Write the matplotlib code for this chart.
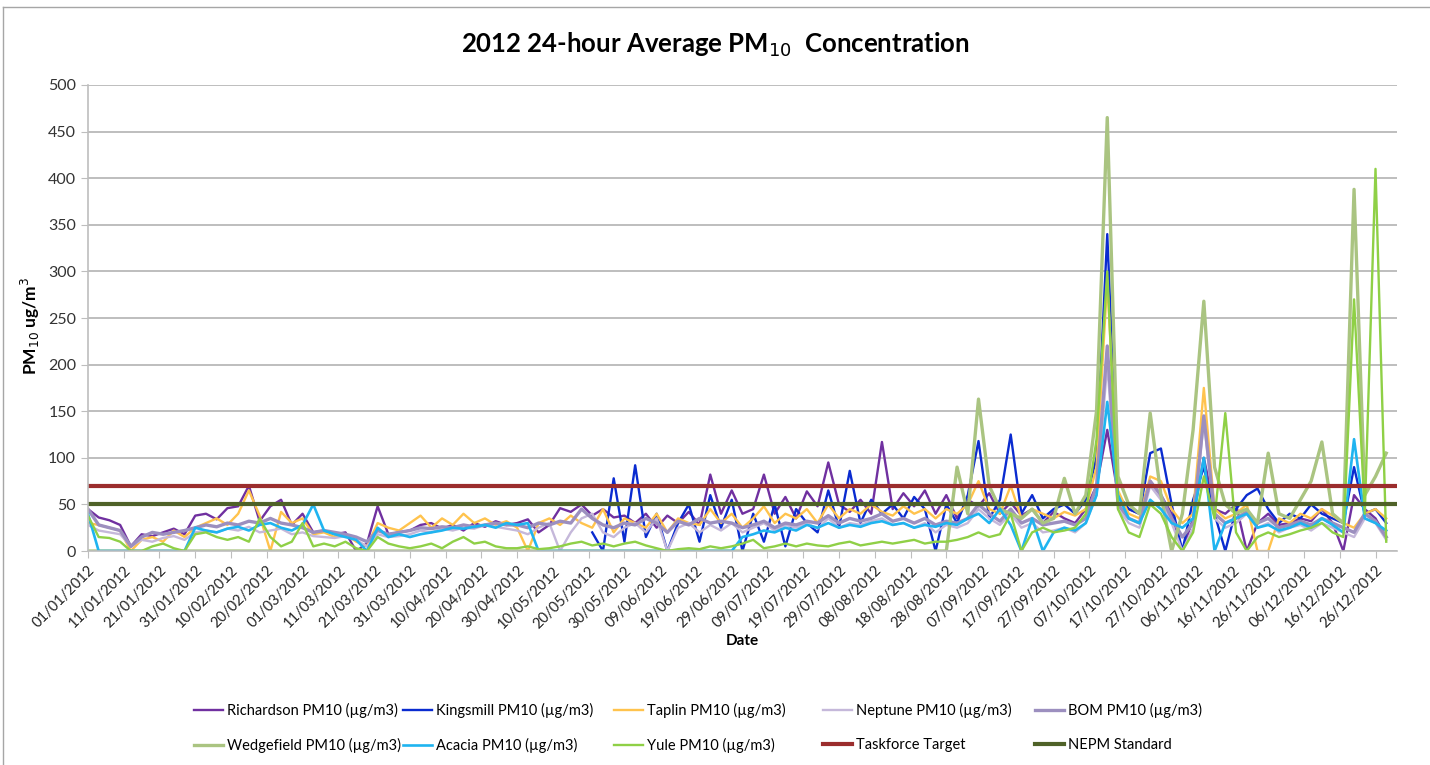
import matplotlib
matplotlib.use('Agg')
import matplotlib.pyplot as plt
from matplotlib.lines import Line2D
import numpy as np
import pandas as pd

plt.rcParams['font.family'] = ['Lato', 'DejaVu Sans']

nan = np.nan

# samples every third day through 2012
dates = pd.date_range('2012-01-01', '2012-12-31', freq='3D')

richardson = [45, 36, 33, 28, 5, 18, 16, 20, 24, 18,
              38, 40, 34, 46, 48, 70, 32, 48, 55, 28,
              40, 20, 22, 18, 20, 0, 8, 48, 18, 20,
              22, 28, 30, 24, 28, 22, 30, 26, 32, 28,
              30, 34, 20, 28, 46, 42, 50, 38, 45, 36,
              38, 30, 40, 25, 38, 30, 42, 28, 82, 40,
              65, 40, 45, 82, 40, 58, 35, 64, 48, 95,
              50, 42, 55, 40, 117, 45, 62, 48, 65, 40,
              60, 35, 55, 48, 62, 40, 52, 38, 45, 30,
              42, 35, 30, 45, 70, 130, 60, 45, 40, 75,
              60, 40, 0, 35, 100, 45, 40, 50, 0, 30,
              40, 28, 30, 35, 32, 45, 30, 0, 60, 45,
              35, 15]

kingsmill = [nan] * 47 + [20, 0, 78,
             10, 92, 15, 40, 0, 30, 50, 10, 60, 25,
             55, 0, 40, 10, 50, 5, 45, 30, 20, 65,
             25, 86, 30, 55, 40, 50, 35, 58, 45, 0,
             50, 30, 60, 118, 35, 55, 125, 40, 60, 35,
             45, 50, 40, 55, 100, 340, 60, 45, 40, 105,
             110, 50, 0, 55, 90, 40, 0, 45, 60, 67,
             45, 30, 40, 35, 50, 40, 35, 30, 90, 40,
             45, 30]

taplin = [30, 28, 25, 22, 0, 12, 15, 10, 22, 15,
          25, 30, 35, 28, 40, 65, 38, 0, 42, 30,
          35, 18, 20, 15, 18, 10, 5, 30, 25, 22,
          30, 38, 25, 35, 28, 40, 30, 35, 28, 32,
          25, 0, 30, 35, 28, 38, 30, 25, 45, 20,
          35, 30, 25, 40, 20, 35, 30, 28, 45, 30,
          40, 25, 35, 48, 30, 40, 35, 45, 30, 50,
          35, 45, 40, 50, 42, 38, 48, 40, 45, 35,
          45, 40, 50, 75, 45, 40, 70, 35, 45, 40,
          35, 42, 38, 45, 90, 290, 65, 40, 35, 80,
          75, 45, 30, 40, 175, 45, 35, 40, 50, 0,
          0, 35, 30, 40, 35, 45, 38, 30, 25, 40,
          45, 35]

neptune = [28, 22, 20, 18, 5, 12, 10, 14, 16, 12,
           20, 22, 20, 24, 22, 26, 20, 22, 24, 18,
           20, 16, 15, 14, 16, 12, 5, 18, 15, 16,
           18, 22, 20, 24, 22, 25, 24, 28, 26, 24,
           22, 18, 25, 30, 0, 20, 35, 40, 20, 15,
           25, 30, 20, 35, 0, 25, 30, 20, 28, 22,
           30, 20, 25, 30, 22, 28, 25, 30, 24, 35,
           25, 30, 28, 32, 35, 28, 30, 25, 30, 20,
           28, 25, 30, 45, 35, 28, 40, 25, 30, 20,
           22, 25, 20, 30, 60, 200, 45, 30, 25, 70,
           55, 30, 0, 25, 140, 35, 25, 30, 40, 25,
           30, 20, 25, 28, 22, 30, 25, 20, 15, 35,
           30, 12]

bom = [45, 28, 25, 22, 5, 15, 20, 18, 20, 22,
       25, 28, 26, 30, 28, 32, 30, 35, 30, 28,
       25, 20, 22, 20, 18, 15, 10, 22, 18, 20,
       22, 25, 24, 26, 25, 28, 26, 28, 30, 28,
       28, 25, 30, 28, 32, 30, 45, 35, 28, 25,
       30, 28, 35, 30, 20, 32, 28, 35, 30, 32,
       30, 25, 28, 32, 25, 30, 28, 32, 30, 38,
       30, 35, 32, 35, 40, 32, 35, 30, 35, 28,
       32, 30, 35, 50, 40, 32, 45, 30, 35, 28,
       30, 32, 28, 35, 70, 220, 50, 35, 30, 75,
       60, 35, 15, 30, 145, 40, 30, 35, 42, 30,
       35, 25, 28, 32, 28, 35, 30, 25, 20, 40,
       32, 15]

wedgefield = [0] * 80 + [0, 90, 40, 163, 70, 45, 40, 35, 45, 30,
              35, 78, 40, 60, 150, 465, 80, 50, 40, 148,
              60, 0, 40, 130, 268, 90, 50, 40, 45, 30,
              105, 40, 35, 55, 75, 117, 40, 30, 388, 60,
              80, 105]

acacia = [40, 0, 0, 0, 0, 0, 0, 0, 0, 0,
          25, 22, 20, 24, 26, 22, 28, 30, 25, 22,
          28, 50, 22, 18, 15, 12, 0, 25, 15, 18,
          15, 18, 20, 22, 25, 24, 26, 28, 25, 30,
          28, 30, 0, 0, 0, 0, 0, 0, 0, 0,
          0, 0, 0, 0, 0, 0, 0, 0, 0, 0,
          0, 15, 18, 22, 20, 25, 22, 28, 25, 30,
          25, 28, 26, 30, 32, 28, 30, 25, 28, 26,
          30, 28, 35, 40, 30, 45, 28, 0, 35, 0,
          20, 25, 22, 30, 60, 160, 60, 35, 30, 55,
          45, 30, 25, 35, 100, 0, 30, 35, 40, 25,
          28, 22, 25, 30, 25, 35, 28, 20, 120, 35,
          30, 22]

yule = [38, 15, 14, 10, 0, 0, 5, 8, 3, 0,
        18, 20, 15, 12, 15, 10, 35, 15, 5, 10,
        30, 5, 8, 5, 10, 3, 0, 15, 8, 5,
        3, 5, 8, 3, 10, 15, 8, 10, 5, 3,
        3, 5, 2, 3, 5, 8, 10, 6, 8, 5,
        8, 10, 6, 3, 0, 2, 3, 2, 5, 3,
        5, 8, 12, 3, 5, 8, 5, 8, 6, 5,
        8, 10, 6, 8, 10, 8, 10, 12, 8, 10,
        10, 12, 15, 20, 15, 18, 40, 0, 20, 25,
        20, 22, 25, 40, 120, 300, 45, 20, 15, 50,
        40, 15, 0, 20, 80, 35, 148, 20, 0, 15,
        20, 15, 18, 22, 25, 30, 20, 15, 270, 40,
        410, 10]

taskforce_target = 70
nepm_standard = 50

series = [
    ('Richardson PM10 (µg/m3)', richardson, '#7030A0', 1.7),
    ('Kingsmill PM10 (µg/m3)', kingsmill, '#0A2BD0', 1.7),
    ('Taplin PM10 (µg/m3)', taplin, '#FFC34D', 1.7),
    ('Neptune PM10 (µg/m3)', neptune, '#C5B8DA', 1.7),
    ('BOM PM10 (µg/m3)', bom, '#9C8FBF', 2.4),
    ('Wedgefield PM10 (µg/m3)', wedgefield, '#AAC481', 2.4),
    ('Acacia PM10 (µg/m3)', acacia, '#1FB4F0', 1.9),
    ('Yule PM10 (µg/m3)', yule, '#8FD046', 1.7),
]

fig = plt.figure(figsize=(14.3, 7.65), dpi=100)
ax = fig.add_axes([0.0615, 0.2797, 0.9154, 0.6092])

handles = []
for name, vals, col, lw in series:
    h, = ax.plot(dates, vals, color=col, lw=lw, label=name)
    handles.append(h)
h = ax.axhline(taskforce_target, color='#9B2D2D', lw=3, label='Taskforce Target')
handles.append(h)
h = ax.axhline(nepm_standard, color='#4F6228', lw=3, label='NEPM Standard')
handles.append(h)

ax.set_xlim(pd.Timestamp('2012-01-01'), pd.Timestamp('2013-01-01'))
ax.set_ylim(0, 500)
ax.set_yticks(range(0, 501, 50))
ticks = pd.date_range('2012-01-01', '2012-12-31', freq='10D')
ax.set_xticks(ticks)
ax.set_xticklabels([d.strftime('%d/%m/%Y') for d in ticks], rotation=45,
                   ha='right', rotation_mode='anchor', fontsize=10.5)
ax.tick_params(axis='y', labelsize=11.5, colors='#333333', length=5, color='#BEBEBE')
ax.tick_params(axis='x', colors='#222222', length=5, color='#BEBEBE', pad=4)
ax.yaxis.grid(True, color='#BEBEBE', lw=1.4)
ax.set_axisbelow(True)
for s in ['top', 'right']:
    ax.spines[s].set_visible(False)
for s in ['left', 'bottom']:
    ax.spines[s].set_color('#BEBEBE')
    ax.spines[s].set_linewidth(1.2)

fig.suptitle('2012 24-hour Average PM$_{10}$  Concentration', x=0.5, y=1 - 45 / 765,
             va='center', fontsize=18.5, fontweight='bold')
ax.set_ylabel('PM$_{10}$ ug/m$^3$', fontsize=12.5, fontweight='bold')
ax.yaxis.set_label_coords(-0.035, 0.483)
ax.set_xlabel('Date', fontsize=11, fontweight='bold', labelpad=2)

# legend: five columns laid out like the spreadsheet version
col_x = [194, 403, 614, 823, 1035]
col_items = [(0, 5), (1, 6), (2, 7), (3, 8), (4, 9)]
for x, (a, b) in zip(col_x, col_items):
    fig.legend([handles[a], handles[b]], [handles[a].get_label(), handles[b].get_label()],
               loc='upper left', bbox_to_anchor=(x / 1430, 1 - 703 / 765),
               frameon=False, fontsize=10.5, handlelength=2.0, labelspacing=1.35,
               handletextpad=0.25, borderpad=0, borderaxespad=0)

fig.add_artist(Line2D([3 / 1430, 1], [1 - 7 / 765, 1 - 7 / 765], color='#A6A6A6', lw=1))
fig.add_artist(Line2D([3 / 1430, 3 / 1430], [0, 1 - 7 / 765], color='#A6A6A6', lw=1))

fig.savefig('out.png', dpi=100, facecolor='white')
